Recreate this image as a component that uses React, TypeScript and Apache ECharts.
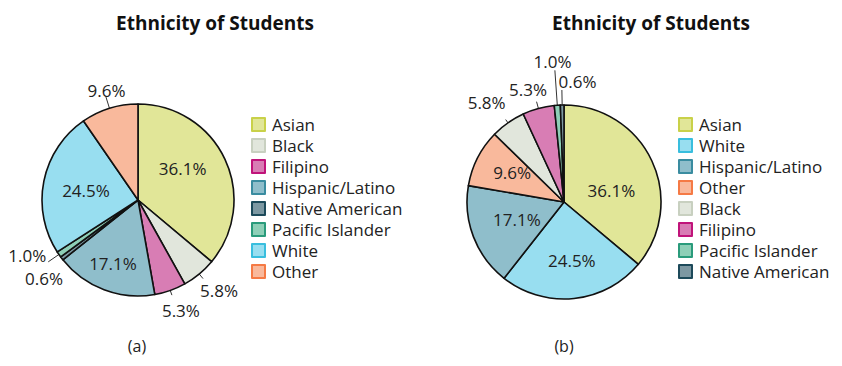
import React, { useEffect, useRef } from 'react';
import * as echarts from 'echarts';

const categoriesA = ['Asian', 'Black', 'Filipino', 'Hispanic/Latino', 'Native American', 'Pacific Islander', 'White', 'Other'];
const valuesA = [36.1, 5.8, 5.3, 17.1, 0.6, 1.0, 24.5, 9.6];
const categoriesB = ['Asian', 'White', 'Hispanic/Latino', 'Other', 'Black', 'Filipino', 'Pacific Islander', 'Native American'];
const valuesB = [36.1, 24.5, 17.1, 9.6, 5.8, 5.3, 1.0, 0.6];
const titleText = 'Ethnicity of Students';
const captions = ['(a)', '(b)'];

const fills: Record<string, string> = {
  'Asian': '#e1e698',
  'Black': '#e1e6dc',
  'Filipino': '#d87db4',
  'Hispanic/Latino': '#8fbecb',
  'Native American': '#7d98a2',
  'Pacific Islander': '#8ecfb7',
  'White': '#98def0',
  'Other': '#f9b99c',
};
const borders: Record<string, string> = {
  'Asian': '#c9d149',
  'Black': '#c8d0c0',
  'Filipino': '#c0147a',
  'Hispanic/Latino': '#3a8ca0',
  'Native American': '#1d4a5a',
  'Pacific Islander': '#2a9b7b',
  'White': '#39bede',
  'Other': '#f57a45',
};

// Label placement (layout only): inside labels get a nudge (dx, dy);
// outside labels get a radial leader line (inner/outer offsets from the rim)
// and a text offset (tx, ty) from the leader's outer end.
type LabelSpec = { dx?: number; dy?: number; inner?: number; outer?: number; tx?: number; ty?: number };
const layoutA: Record<string, LabelSpec> = {
  'Asian': { dx: -1.5, dy: -10 },
  'White': { dx: -2, dy: 1 },
  'Hispanic/Latino': { dx: -7, dy: 16 },
  'Other': { inner: -8, outer: 12, tx: 0.6, ty: -6 },
  'Black': { inner: -8, outer: 6, tx: 16, ty: 12.4 },
  'Filipino': { inner: -9, outer: 5, tx: 9, ty: 15 },
  'Pacific Islander': { inner: 0, outer: 13, tx: -21, ty: -6 },
  'Native American': { inner: 0, outer: 0, tx: -17.8, ty: 20.5 },
};
const layoutB: Record<string, LabelSpec> = {
  'Asian': { dx: 0.7, dy: 10 },
  'White': { dx: 2.5, dy: 7 },
  'Hispanic/Latino': { dx: 1, dy: -1 },
  'Other': { dx: -6, dy: -6 },
  'Black': { inner: -7, outer: 4, tx: -19, ty: -17 },
  'Filipino': { inner: -5, outer: 7, tx: -8.6, ty: -11.7 },
  'Pacific Islander': { inner: -8, outer: 35, tx: -2.4, ty: -9.3 },
  'Native American': { inner: 0, outer: 15, tx: 15.6, ty: -9 },
};

const FONT = '"Open Sans", "Noto Sans", sans-serif';
const TEXT = '#222222';

function midAngle(vals: number[], idx: number) {
  const total = vals.reduce((a, b) => a + b, 0);
  let before = 0;
  for (let i = 0; i < idx; i++) before += vals[i];
  return ((before + vals[idx] / 2) / total) * Math.PI * 2;
}

function buildSeries(cats: string[], vals: number[], layout: Record<string, LabelSpec>, center: number[], radius: number) {
  const isOutside = (c: string) => layout[c].outer !== undefined;
  return {
    type: 'pie',
    center,
    radius,
    startAngle: 90,
    clockwise: true,
    avoidLabelOverlap: false,
    itemStyle: { borderColor: '#111', borderWidth: 1.6 },
    label: {
      show: true,
      position: 'outside',
      formatter: (p: any) => `${Number(p.value).toFixed(1)}%`,
      fontFamily: FONT,
      fontSize: 17,
      lineHeight: 15,
      color: TEXT,
      overflow: 'none',
    },
    labelLine: { show: true, length: 6, length2: 0, lineStyle: { color: '#333', width: 1 } },
    labelLayout: (p: any) => {
      const c = cats[p.dataIndex];
      const s = layout[c];
      if (!isOutside(c)) return { dx: s.dx || 0, dy: s.dy || 0 };
      const a = midAngle(vals, p.dataIndex);
      const ux = Math.sin(a);
      const uy = -Math.cos(a);
      const r0 = radius + (s.inner || 0);
      const r1 = radius + (s.outer || 0);
      const p0 = [center[0] + r0 * ux, center[1] + r0 * uy];
      const p1 = [center[0] + r1 * ux, center[1] + r1 * uy];
      return {
        x: p1[0] + (s.tx || 0),
        y: p1[1] + (s.ty || 0),
        align: 'center',
        verticalAlign: 'middle',
        labelLinePoints: [p0, p1, p1],
      };
    },
    emphasis: { disabled: true },
    data: cats.map((c, i) => ({
      name: c,
      value: vals[i],
      itemStyle: { color: fills[c] },
      label: { position: isOutside(c) ? 'outside' : 'inside' },
      labelLine: { show: isOutside(c) && (layout[c].outer || 0) !== (layout[c].inner || 0) },
    })),
  };
}

function buildLegend(cats: string[], left: number) {
  return {
    orient: 'vertical',
    left,
    top: 116,
    padding: 0,
    itemWidth: 13,
    itemHeight: 13,
    itemGap: 4,
    icon: 'rect',
    selectedMode: false,
    textStyle: { fontFamily: FONT, fontSize: 17, color: TEXT, padding: [0, 0, 0, 2] },
    data: cats.map((c) => ({
      name: c,
      itemStyle: { color: fills[c], borderColor: borders[c], borderWidth: 2 },
    })),
  };
}

export default function App() {
  const ref = useRef<HTMLDivElement>(null);
  useEffect(() => {
    if (!ref.current) return;
    const chart = echarts.init(ref.current, undefined, { renderer: 'svg' });
    chart.setOption({
      animation: false,
      backgroundColor: '#ffffff',
      legend: [buildLegend(categoriesA, 251), buildLegend(categoriesB, 678)],
      graphic: [
        { type: 'text', x: 215, y: 23, style: { text: titleText, font: `bold 19px ${FONT}`, fill: '#111', textAlign: 'center', textVerticalAlign: 'middle' } },
        { type: 'text', x: 651, y: 23, style: { text: titleText, font: `bold 19px ${FONT}`, fill: '#111', textAlign: 'center', textVerticalAlign: 'middle' } },
        { type: 'text', x: 137, y: 346, style: { text: captions[0], font: `16px ${FONT}`, fill: TEXT, textAlign: 'center', textVerticalAlign: 'middle' } },
        { type: 'text', x: 564, y: 346, style: { text: captions[1], font: `16px ${FONT}`, fill: TEXT, textAlign: 'center', textVerticalAlign: 'middle' } },
      ],
      series: [
        buildSeries(categoriesA, valuesA, layoutA, [138, 200], 96),
        buildSeries(categoriesB, valuesB, layoutB, [564, 202], 97),
      ],
    });
    return () => chart.dispose();
  }, []);
  return <div ref={ref} style={{ position: 'absolute', left: 0, top: 0, width: 842, height: 366 }} />;
}
